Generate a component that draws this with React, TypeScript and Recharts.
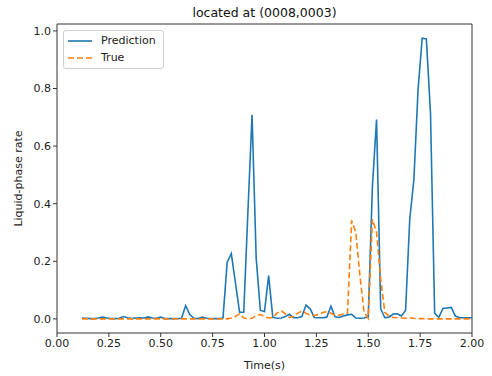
import { LineChart, Line, XAxis, YAxis, ReferenceLine } from 'recharts';

const times = [
  0.12, 0.14, 0.16, 0.18, 0.2, 0.22, 0.24, 0.26, 0.28, 0.3,
  0.32, 0.34, 0.36, 0.38, 0.4, 0.42, 0.44, 0.46, 0.48, 0.5,
  0.52, 0.54, 0.56, 0.58, 0.6, 0.62, 0.64, 0.66, 0.68, 0.7,
  0.72, 0.74, 0.76, 0.78, 0.8, 0.82, 0.84, 0.86, 0.88, 0.9,
  0.92, 0.94, 0.96, 0.98, 1.0, 1.02, 1.04, 1.06, 1.08, 1.1,
  1.12, 1.14, 1.16, 1.18, 1.2, 1.22, 1.24, 1.26, 1.28, 1.3,
  1.32, 1.34, 1.36, 1.38, 1.4, 1.42, 1.44, 1.46, 1.48, 1.5,
  1.52, 1.54, 1.56, 1.58, 1.6, 1.62, 1.64, 1.66, 1.68, 1.7,
  1.72, 1.74, 1.76, 1.78, 1.8, 1.82, 1.84, 1.86, 1.88, 1.9,
  1.92, 1.94, 1.96, 1.98, 2.0,
];

const prediction = [
  0.003, 0.002, 0.001, 0.001, 0.003, 0.006, 0.003, 0.001, 0.001, 0.002,
  0.008, 0.004, 0.001, 0.003, 0.004, 0.003, 0.007, 0.003, 0.002, 0.006,
  0.001, 0.001, 0.001, 0.001, 0.002, 0.046, 0.015, 0.002, 0.001, 0.006,
  0.002, 0.001, 0.001, 0.001, 0.003, 0.196, 0.227, 0.125, 0.023, 0.023,
  0.37, 0.709, 0.21, 0.03, 0.025, 0.15, 0.005, 0.002, 0.003, 0.008,
  0.016, 0.004, 0.004, 0.008, 0.048, 0.035, 0.005, 0.004, 0.004, 0.006,
  0.044, 0.007, 0.005, 0.01, 0.014, 0.016, 0.003, 0.002, 0.003, 0.008,
  0.46, 0.692, 0.035, 0.004, 0.006, 0.017, 0.018, 0.01, 0.03, 0.346,
  0.484, 0.796, 0.975, 0.972, 0.715, 0.02, 0.005, 0.036, 0.038, 0.04,
  0.01, 0.004, 0.004, 0.004, 0.004,
];

const truth = [
  0, 0, 0, 0, 0, 0, 0, 0, 0, 0,
  0, 0, 0, 0, 0, 0, 0, 0, 0, 0,
  0, 0, 0, 0, 0, 0, 0, 0, 0, 0,
  0, 0, 0, 0, 0, 0, 0.003, 0.008, 0.018, 0.003,
  0.001, 0.002, 0.012, 0.015, 0.008, 0.003, 0.004, 0.02, 0.028, 0.018,
  0.005, 0.008, 0.02, 0.027, 0.02, 0.012, 0.012, 0.015, 0.022, 0.025,
  0.02, 0.012, 0.013, 0.017, 0.02, 0.342, 0.3, 0.15, 0.023, 0.002,
  0.346, 0.3, 0.138, 0.023, 0.01, 0.005, 0.004, 0.003, 0.002, 0.004,
  0.002, 0.001, 0.001, 0, 0, 0, 0, 0, 0, 0,
  0, 0, 0, 0, 0,
];

const xTicks = [0, 0.25, 0.5, 0.75, 1.0, 1.25, 1.5, 1.75, 2.0];
const yTicks = [0, 0.2, 0.4, 0.6, 0.8, 1.0];

const data = times.map((t, i) => ({ t, prediction: prediction[i], truth: truth[i] }));

const font = '"DejaVu Sans", sans-serif';
const axisColor = '#333';
const yMin = -0.049;
const yMax = 1.024;

function LegendBox() {
  const items = [
    { label: 'Prediction', color: '#1f77b4', dash: undefined },
    { label: 'True', color: '#ff7f0e', dash: '6 3' },
  ];
  return (
    <div
      style={{
        position: 'absolute',
        top: 30,
        left: 63,
        border: '1px solid #d0d0d0',
        borderRadius: 3,
        background: 'rgba(255,255,255,0.8)',
        padding: '1px 6px 2px 4px',
        fontFamily: font,
        fontSize: 11,
        color: '#222',
        width: 89,
      }}
    >
      {items.map((it) => (
        <div key={it.label} style={{ display: 'flex', alignItems: 'center', height: 17 }}>
          <svg width={24} height={8} style={{ marginRight: 9 }}>
            <line x1={0} y1={4} x2={24} y2={4} stroke={it.color} strokeWidth={1.6} strokeDasharray={it.dash} />
          </svg>
          <span>{it.label}</span>
        </div>
      ))}
    </div>
  );
}

export default function App() {
  return (
    <div style={{ position: 'relative', width: 492, height: 376, background: '#fff' }}>
      <style>{'body { margin: 0; }'}</style>
      <div
        style={{
          position: 'absolute',
          top: 5,
          left: 57,
          width: 415,
          textAlign: 'center',
          fontFamily: font,
          fontSize: 12.5,
          lineHeight: '16px',
          color: '#111',
        }}
      >
        located at (0008,0003)
      </div>
      <LineChart width={492} height={376} data={data} margin={{ top: 24, right: 20, bottom: 0, left: 0 }}>
        <XAxis
          dataKey="t"
          type="number"
          domain={[0, 2]}
          ticks={xTicks}
          tickFormatter={(v: number) => v.toFixed(2)}
          tick={{ fill: '#222', fontSize: 11, fontFamily: font }}
          tickSize={4}
          height={43}
          stroke={axisColor}
          tickLine={{ stroke: axisColor }}
          label={{ value: 'Time(s)', position: 'insideBottom', offset: 7, style: { fill: '#222', fontSize: 11, fontFamily: font } }}
        />
        <YAxis
          type="number"
          domain={[yMin, yMax]}
          ticks={yTicks}
          allowDataOverflow
          tickFormatter={(v: number) => v.toFixed(1)}
          tick={{ fill: '#222', fontSize: 11, fontFamily: font }}
          tickSize={4}
          width={57}
          stroke={axisColor}
          tickLine={{ stroke: axisColor }}
          label={{ value: 'Liquid-phase rate', angle: -90, position: 'insideLeft', offset: 18, style: { textAnchor: 'middle', fill: '#222', fontSize: 11, fontFamily: font } }}
        />
        <ReferenceLine y={yMax} stroke={axisColor} />
        <ReferenceLine x={2} stroke={axisColor} />
        <Line
          type="linear"
          dataKey="prediction"
          stroke="#1f77b4"
          strokeWidth={1.6}
          dot={false}
          isAnimationActive={false}
        />
        <Line
          type="linear"
          dataKey="truth"
          stroke="#ff7f0e"
          strokeWidth={1.6}
          strokeDasharray="6 3"
          dot={false}
          isAnimationActive={false}
        />
      </LineChart>
      <LegendBox />
    </div>
  );
}
